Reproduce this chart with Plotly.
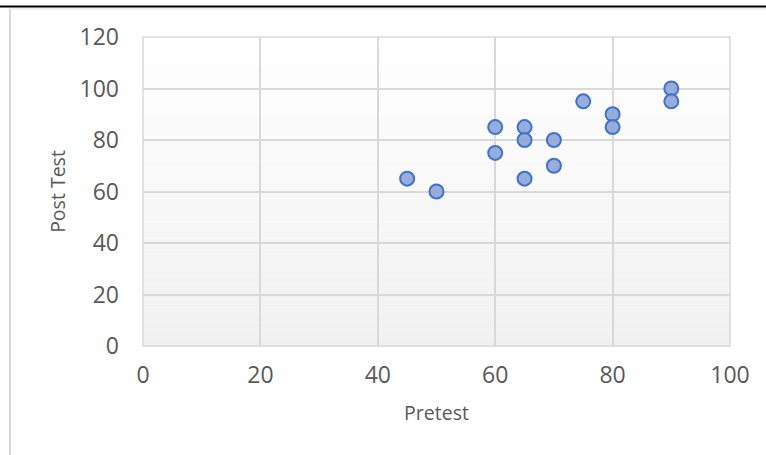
import plotly.graph_objects as go

pretest = [45, 50, 60, 60, 65, 65, 65, 70, 70, 75, 80, 80, 90, 90]
post_test = [65, 60, 85, 75, 85, 80, 65, 80, 70, 95, 90, 85, 100, 95]
x_ticks = [0, 20, 40, 60, 80, 100]
y_ticks = [0, 20, 40, 60, 80, 100, 120]

FONT = "Open Sans"
W, H = 766, 455
L, T = 143, 37
R = W - 730
B = H - 346
PW, PH = W - L - R, H - T - B

fig = go.Figure()
fig.add_trace(go.Scatter(
    x=pretest, y=post_test, mode="markers",
    marker=dict(size=14, color="rgba(140,164,218,0.9)",
                line=dict(color="#4472c4", width=2)),
    showlegend=False, cliponaxis=False,
))

shapes = []
# gradient background of plot area (white -> light gray)
n = 40
for i in range(n):
    t = (i + 0.5) / n
    c = int(round(255 - t * 14))
    shapes.append(dict(type="rect", xref="x domain", yref="y domain",
                       x0=0, x1=1, y0=1 - (i + 1) / n, y1=1 - i / n,
                       fillcolor=f"rgb({c},{c},{c})", line=dict(width=0),
                       layer="below"))
# plot area border
shapes.append(dict(type="rect", xref="x domain", yref="y domain", x0=0, x1=1, y0=0, y1=1,
                   line=dict(color="#d9d9d9", width=1.5), layer="below"))

def px_x(x):
    return (x - L) / PW

def px_y(y):
    return 1 - (y - T) / PH

# page frame lines
shapes.append(dict(type="line", xref="paper", yref="paper",
                   x0=px_x(-5), x1=px_x(780), y0=px_y(6.5), y1=px_y(6.5),
                   line=dict(color="black", width=2)))
shapes.append(dict(type="line", xref="paper", yref="paper",
                   x0=px_x(10), x1=px_x(780), y0=px_y(9), y1=px_y(9),
                   line=dict(color="#e6e6e6", width=1)))
shapes.append(dict(type="line", xref="paper", yref="paper",
                   x0=px_x(10), x1=px_x(10), y0=px_y(8.5), y1=px_y(470),
                   line=dict(color="#d9d9d9", width=2)))

fig.update_layout(
    width=W, height=H,
    margin=dict(l=L, r=R, t=T, b=B),
    paper_bgcolor="white", plot_bgcolor="white",
    font=dict(family=FONT, color="#595959", size=20),
    shapes=shapes,
    xaxis=dict(range=[0, 100], tickvals=x_ticks, showgrid=True,
               gridcolor="#d9d9d9", gridwidth=2, zeroline=False, showline=False,
               ticks="", ticklabelstandoff=13,
               tickfont=dict(size=23, color="#595959"),
               title=dict(text="Pretest", font=dict(size=19.5, color="#595959"), standoff=17)),
    yaxis=dict(range=[0, 120], tickvals=y_ticks, showgrid=True,
               gridcolor="#d9d9d9", gridwidth=2, zeroline=False, showline=False,
               ticks="", ticklabelstandoff=23,
               tickfont=dict(size=23, color="#595959"),
               title=dict(text="Post Test", font=dict(size=19.5, color="#595959"), standoff=8)),
)

fig.write_html("out.html",
               config={"displayModeBar": False},
               post_script="document.body.style.margin='0';document.body.style.overflow='hidden';")
